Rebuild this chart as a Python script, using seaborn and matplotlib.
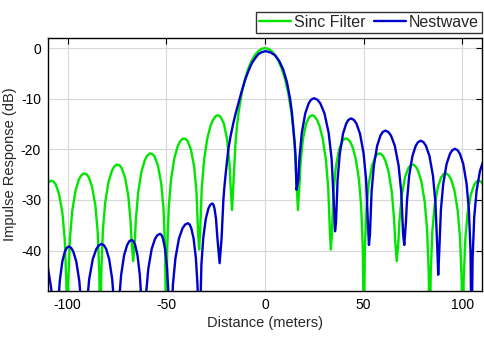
import matplotlib
matplotlib.use("Agg")
import matplotlib.pyplot as plt
import pandas as pd
import seaborn as sns

# ---- data ----
series_names = ["Sinc Filter", "Nestwave"]
series_colors = ["#00e600", "#0000cc"]

sinc_x = [-111.06, -109.89, -108.55, -107.21, -106.05, -104.38, -102.71, -101.54, -100.70,
          -100.20, -99.70, -98.86, -97.70, -96.03, -94.36, -93.19, -91.85, -90.51, -89.35, -87.68, -86.01, -84.84, -84.00,
          -83.50, -83.00, -82.16, -81.00, -79.33, -77.66, -76.49, -75.15, -73.81, -72.65, -70.98, -69.31, -68.14, -67.64,
          -66.80, -65.97, -65.46, -64.30, -62.63, -60.96, -59.79, -58.45, -57.11, -55.95, -54.28, -52.61, -51.44, -50.60,
          -50.10, -49.60, -48.76, -47.60, -45.93, -44.26, -43.09, -41.75, -40.41, -39.25, -37.58, -35.91, -34.74, -33.90,
          -33.40, -32.90, -32.06, -30.90, -29.23, -27.56, -26.39, -25.05, -23.88, -22.55, -20.88, -19.21, -18.04, -17.54,
          -16.70, -15.87, -15.03, -14.20, -13.36, -11.69, -10.02, -8.35, -6.68, -5.01, -3.34, -1.67,
          0.0,
          1.67, 3.34, 5.01, 6.68, 8.35, 10.02, 11.69, 13.36, 14.20, 15.03, 15.87, 16.70,
          17.54, 18.04, 19.21, 20.88, 22.55, 23.88, 25.05, 26.39, 27.56, 29.23, 30.90, 32.06, 32.90, 33.40,
          33.90, 34.74, 35.91, 37.58, 39.25, 40.41, 41.75, 43.09, 44.26, 45.93, 47.60, 48.76, 49.60, 50.10,
          50.60, 51.44, 52.61, 54.28, 55.95, 57.11, 58.45, 59.79, 60.96, 62.63, 64.30, 65.46, 65.97, 66.80,
          67.64, 68.14, 69.31, 70.98, 72.65, 73.81, 75.15, 76.49, 77.66, 79.33, 81.00, 82.16, 83.00, 83.50,
          84.00, 84.84, 86.01, 87.68, 89.35, 90.51, 91.85, 93.19, 94.36, 96.03, 97.70, 98.86, 99.70, 100.20,
          100.70, 101.54, 102.71, 104.38, 106.05, 107.21, 108.55, 109.89, 111.06]
sinc_db = [-27.40, -26.59, -26.20, -26.37, -27.00, -28.87, -32.58, -37.71, -46.08,
           -60.0, -45.99, -37.48, -32.15, -28.15, -25.98, -25.16, -24.75, -24.90, -25.51, -27.36, -31.04, -36.15, -44.50,
           -60.0, -44.40, -35.87, -30.52, -26.49, -24.29, -23.44, -23.01, -23.13, -23.71, -25.52, -29.16, -34.25, -38.20,
           -42.1, -37.98, -33.90, -28.51, -24.43, -22.19, -21.30, -20.82, -20.90, -21.44, -23.19, -26.77, -31.80, -40.10,
           -60.0, -39.93, -31.34, -25.90, -21.74, -19.41, -18.46, -17.90, -17.90, -18.36, -20.00, -23.45, -28.40, -36.62,
           -39.8, -36.36, -27.70, -22.15, -17.81, -15.29, -14.20, -13.46, -13.26, -13.55, -14.89, -18.02, -22.70, -26.48,
           -32.0, -25.6, -19.23, -15.39, -12.62, -8.69, -5.94, -3.92, -2.42, -1.33, -0.58, -0.14,
           0.0,
           -0.14, -0.58, -1.33, -2.42, -3.92, -5.94, -8.69, -12.62, -15.39, -19.23, -25.6, -32.0,
           -26.48, -22.70, -18.02, -14.89, -13.55, -13.26, -13.46, -14.20, -15.29, -17.81, -22.15, -27.70, -36.36, -39.8,
           -36.62, -28.40, -23.45, -20.00, -18.36, -17.90, -17.90, -18.46, -19.41, -21.74, -25.90, -31.34, -39.93, -60.0,
           -40.10, -31.80, -26.77, -23.19, -21.44, -20.90, -20.82, -21.30, -22.19, -24.43, -28.51, -33.90, -37.98, -42.1,
           -38.20, -34.25, -29.16, -25.52, -23.71, -23.13, -23.01, -23.44, -24.29, -26.49, -30.52, -35.87, -44.40, -60.0,
           -44.50, -36.15, -31.04, -27.36, -25.51, -24.90, -24.75, -25.16, -25.98, -28.15, -32.15, -37.48, -45.99, -60.0,
           -46.08, -37.71, -32.58, -28.87, -27.00, -26.37, -26.20, -26.59, -27.40]

nest_x = [-112.72, -111.6, -110.0, -108.4, -107.28, -106.0,
          -104.96, -104.05, -102.75, -101.45, -100.54, -99.5, -98.27, -97.19, -95.65, -94.11, -93.03, -91.8,
          -90.36, -89.1, -87.3, -85.5, -84.24, -82.8, -81.58, -80.52, -79.0, -77.48, -76.42, -75.2,
          -73.98, -72.92, -71.4, -69.88, -68.82, -67.6, -66.66, -65.83, -64.65, -63.47, -62.64, -61.7,
          -60.34, -59.15, -57.45, -55.75, -54.56, -53.2, -52.38, -51.67, -50.65, -49.63, -48.92, -48.1,
          -46.66, -45.4, -43.6, -41.8, -40.54, -39.1, -38.17, -37.36, -36.2, -35.04, -34.23, -33.3,
          -32.24, -31.32, -30.0, -28.68, -27.76, -26.7, -26.11, -25.59, -24.85, -24.11, -23.0,
          -22.0, -21.1, -20.6, -19.9, -18.6, -17.4, -16.1, -14.8, -13.5, -11.8, -10.1, -8.4, -6.7,
          -5.0, -3.4, -1.7, 0.3, 2.7, 5.1, 7.3, 9.3, 11.1, 12.7, 13.6, 14.3, 15.0, 15.5, 16.0,
          16.88, 17.41, 18.64, 20.4, 22.16, 23.39, 24.8, 26.51, 28.01, 30.15, 32.29, 33.79, 34.86, 35.5,
          35.99, 36.80, 37.93, 39.55, 41.17, 42.30, 43.6, 45.06, 46.33, 48.15, 49.97, 51.24, 52.15, 52.7,
          53.20, 54.03, 55.19, 56.85, 58.51, 59.67, 61.0, 62.54, 63.88, 65.80, 67.72, 69.06, 70.02, 70.6,
          71.43, 71.93, 73.09, 74.75, 76.41, 77.57, 78.9, 80.32, 81.57, 83.35, 85.13, 86.38, 87.27, 87.8,
          88.31, 89.16, 90.35, 92.05, 93.75, 94.94, 96.3, 97.64, 98.82, 100.5, 102.18, 103.36, 104.2, 104.7,
          105.21, 106.06, 107.25, 108.95, 110.65]
nest_db = [-40.78, -41.5, -43.5, -47.4, -52.6, -60.0,
           -51.3, -46.1, -42.2, -40.2, -39.48, -39.2, -39.48, -40.2, -42.2, -46.1, -51.3, -60.0,
           -50.8, -45.6, -41.7, -39.7, -38.98, -38.7, -38.98, -39.7, -41.7, -45.6, -50.8, -60.0,
           -50.0, -44.8, -40.9, -38.9, -38.18, -37.9, -38.18, -38.9, -40.9, -44.8, -50.0, -60.0,
           -48.8, -43.6, -39.7, -37.7, -36.98, -36.7, -36.98, -37.7, -39.7, -43.6, -48.8, -60.0,
           -46.7, -41.5, -37.6, -35.6, -34.88, -34.6, -34.88, -35.6, -37.6, -41.5, -46.7, -60.0,
           -42.8, -37.6, -33.7, -31.7, -30.98, -30.7, -30.98, -31.7, -33.7, -37.6, -42.5,
           -37.5, -30.0, -27.5, -24.7, -20.0, -17.3, -14.9, -12.8, -10.9, -8.5, -6.3, -4.5, -3.0,
           -2.0, -1.2, -0.8, -0.6, -0.85, -1.4, -2.6, -4.3, -6.7, -10.0, -12.6, -15.5, -18.6, -21.4, -28.0,
           -26.0, -22.0, -16.8, -12.9, -10.9, -10.18, -9.9, -10.18, -10.9, -12.9, -16.8, -22.0, -30.4, -36.2,
           -34.4, -26.0, -20.8, -16.9, -14.9, -14.18, -13.9, -14.18, -14.9, -16.9, -20.8, -26.0, -34.4, -38.9,
           -36.8, -28.4, -23.2, -19.3, -17.3, -16.58, -16.3, -16.58, -17.3, -19.3, -23.2, -28.4, -36.8, -38.9,
           -34.4, -30.4, -25.2, -21.3, -19.3, -18.58, -18.3, -18.58, -19.3, -21.3, -25.2, -30.4, -38.8, -44.8,
           -40.4, -32.0, -26.8, -22.9, -20.9, -20.18, -19.9, -20.18, -20.9, -22.9, -26.8, -32.0, -40.4, -60.0,
           -41.8, -33.4, -28.2, -24.3, -22.3]

x_ticks = [-100, -50, 0, 50, 100]
y_ticks = [0, -10, -20, -30, -40]
x_label = "Distance (meters)"
y_label = "Impulse Response (dB)"

# ---- build table ----
df = pd.concat([
    pd.DataFrame({"Distance": sinc_x, "dB": sinc_db, "Series": series_names[0]}),
    pd.DataFrame({"Distance": nest_x, "dB": nest_db, "Series": series_names[1]}),
], ignore_index=True)

sns.set_theme(style="white")
plt.rcParams["font.family"] = ["Liberation Sans", "DejaVu Sans"]
plt.rcParams["axes.unicode_minus"] = False

W, H = 484, 338
fig = plt.figure(figsize=(W / 100, H / 100), dpi=100)
ax = fig.add_axes([48 / W, 1 - 291 / H, 434 / W, 253 / H])

sns.lineplot(data=df, x="Distance", y="dB", hue="Series", hue_order=series_names,
             palette=dict(zip(series_names, series_colors)), estimator=None, sort=False,
             linewidth=1.7, ax=ax, legend=False)

ax.set_xlim(-110, 110)
ax.set_ylim(-48, 2)
ax.set_xticks(x_ticks)
ax.set_yticks(y_ticks)
ax.set_xticklabels([str(t) for t in x_ticks])
ax.set_yticklabels([str(t) for t in y_ticks])
ax.set_xlabel(x_label, fontsize=10.5, labelpad=3)
ax.set_ylabel(y_label, fontsize=10.5, labelpad=3)
ax.grid(True, color="#d6d6d6", linewidth=0.8)
ax.set_axisbelow(True)
ax.tick_params(direction="in", top=True, right=True, length=4, width=0.8,
               labelsize=10, pad=5, colors="black")
for s in ax.spines.values():
    s.set_color("black")
    s.set_linewidth(1.0)

handles = ax.get_lines()[:2]
leg = ax.legend(handles, series_names, loc="lower right", bbox_to_anchor=(1.0, 1.0 + 5 / 253),
                ncol=2, frameon=True, fancybox=False, edgecolor="black", fontsize=11.5,
                borderaxespad=0, borderpad=0.2, handlelength=2.0, handletextpad=0.2,
                columnspacing=0.5)
leg.get_frame().set_linewidth(1.0)

fig.savefig("out.png", dpi=100)
